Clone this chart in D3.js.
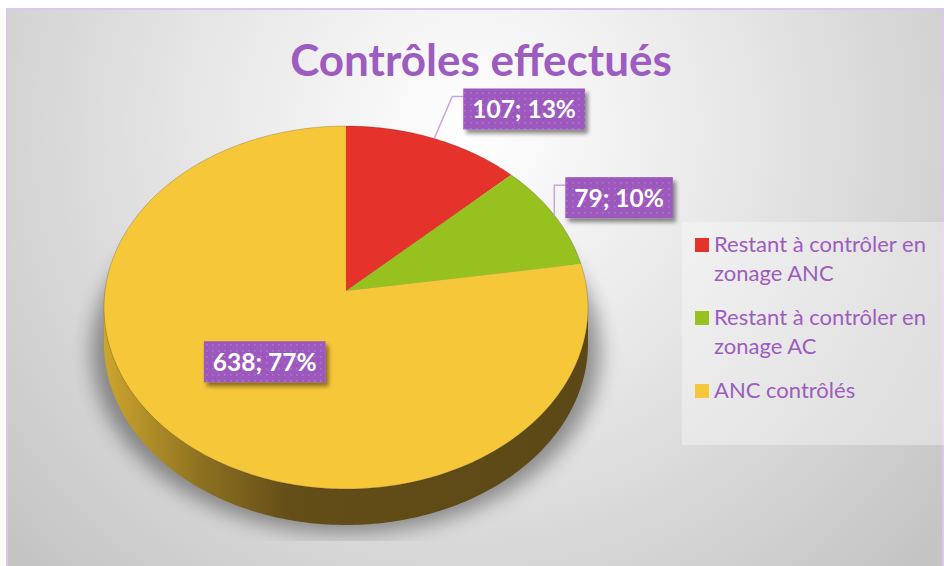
<!DOCTYPE html>
<html>
<head>
<meta charset="utf-8">
<script src="https://cdn.jsdelivr.net/npm/d3@7"></script>
<style>
  html, body { margin: 0; padding: 0; background: #fff; }
  svg { display: block; font-family: Lato, "Open Sans", sans-serif; }
</style>
</head>
<body>
<svg id="chart" width="944" height="566"></svg>
<script>
// Chart data
const title = "Contrôles effectués";
const categories = [
  "Restant à contrôler en zonage ANC",
  "Restant à contrôler en zonage AC",
  "ANC contrôlés"
];
const values = [107, 79, 638];
const palette = ["#e5322a", "#96c11f", "#f6c739"];

// Layout of the tilted pie (perspective projection of a flat disc)
const pieGeom = { cx: 346, cy: 291, rx: 241, ry: 180, persp: 0.0909, depth: 36 };
// label box offsets from the rim anchor, null = inside the slice
const labelOffsets = [[29, -50], [11, -38], null];

const svg = d3.select('#chart');
const W = 944, H = 566;
const defs = svg.append('defs');

// Background radial gradient
const bg = defs.append('radialGradient')
  .attr('id', 'bg').attr('gradientUnits', 'userSpaceOnUse')
  .attr('cx', 470).attr('cy', 130).attr('r', 620);
bg.append('stop').attr('offset', 0).attr('stop-color', '#ffffff');
bg.append('stop').attr('offset', 0.45).attr('stop-color', '#e6e6e6');
bg.append('stop').attr('offset', 1).attr('stop-color', '#c4c4c4');

// Side gradient of the disc
const side = defs.append('linearGradient')
  .attr('id', 'side').attr('gradientUnits', 'userSpaceOnUse')
  .attr('x1', pieGeom.cx - pieGeom.rx).attr('x2', pieGeom.cx + pieGeom.rx)
  .attr('y1', 0).attr('y2', 0);
[[0, '#cca52d'], [0.2, '#8d7121'], [0.38, '#634e18'], [1, '#5c4816']].forEach(s => {
  side.append('stop').attr('offset', s[0]).attr('stop-color', s[1]);
});

const blur = defs.append('filter').attr('id', 'pieShadow')
  .attr('x', '-20%').attr('y', '-20%').attr('width', '140%').attr('height', '140%');
blur.append('feGaussianBlur').attr('stdDeviation', 10);

const boxShadow = defs.append('filter').attr('id', 'boxShadow')
  .attr('x', '-20%').attr('y', '-30%').attr('width', '150%').attr('height', '170%');
boxShadow.append('feDropShadow')
  .attr('dx', 3).attr('dy', 4).attr('stdDeviation', 2)
  .attr('flood-color', '#000').attr('flood-opacity', 0.45);

// Dotted texture for data labels
const dots = defs.append('pattern').attr('id', 'dots')
  .attr('patternUnits', 'userSpaceOnUse').attr('width', 6).attr('height', 6);
dots.append('rect').attr('width', 6).attr('height', 6).attr('fill', '#9c58bd');
dots.append('rect').attr('x', 2).attr('y', 2).attr('width', 1.6).attr('height', 1.6)
  .attr('fill', '#ad77cb');

defs.append('clipPath').attr('id', 'shadowClip')
  .append('rect').attr('x', 0).attr('y', 0).attr('width', W).attr('height', 541);

// Frame + background
svg.append('rect').attr('x', 7).attr('y', 9).attr('width', W - 8).attr('height', H)
  .attr('fill', 'url(#bg)').attr('stroke', '#dcc8ec').attr('stroke-width', 2);

// Title
svg.append('text')
  .attr('x', 481).attr('y', 76)
  .attr('text-anchor', 'middle')
  .attr('font-size', 44).attr('font-weight', 700)
  .attr('fill', '#9d5cbf')
  .text(title);

// Projection of an angle on the rim
function project(theta, r = 1) {
  const d = 1 + pieGeom.persp * Math.cos(theta) * r;
  return [
    pieGeom.cx + pieGeom.rx * r * Math.sin(theta) / d,
    pieGeom.cy - pieGeom.ry * r * Math.cos(theta) / d
  ];
}
function rim(a0, a1) {
  const n = Math.max(2, Math.ceil((a1 - a0) / (Math.PI / 180)));
  return d3.range(n + 1).map(i => project(a0 + (a1 - a0) * i / n));
}

const total = d3.sum(values);
const pct = d3.format('.0%');
const arcs = d3.pie().sort(null).startAngle(0).endAngle(2 * Math.PI)(values);
const line = d3.line();

const pieG = svg.append('g');

// silhouette angles of the side (where the rim is widest)
const silA = Math.acos(-pieGeom.persp);
const silB = 2 * Math.PI - silA;

// Drop shadow under the disc
const outline = rim(0, 2 * Math.PI);
const shadowPts = outline.map(p => [
  pieGeom.cx + (p[0] - pieGeom.cx) * 1.05,
  p[1] + pieGeom.depth + 8
]);
pieG.append('g').attr('clip-path', 'url(#shadowClip)')
  .append('path')
  .attr('d', line(shadowPts) + 'Z')
  .attr('fill', '#000').attr('opacity', 0.38)
  .attr('filter', 'url(#pieShadow)');

// Side of the disc, drawn per slice where it faces the viewer
arcs.forEach(a => {
  const s = Math.max(a.startAngle, silA), e = Math.min(a.endAngle, silB);
  if (e <= s) return;
  const top = rim(s, e);
  const bottom = top.map(p => [p[0], p[1] + pieGeom.depth]).reverse();
  pieG.append('path')
    .attr('d', line(top.concat(bottom)) + 'Z')
    .attr('fill', 'url(#side)');
});

// Top face slices
pieG.selectAll('path.slice')
  .data(arcs)
  .join('path')
  .attr('class', 'slice')
  .attr('d', a => line([[pieGeom.cx, pieGeom.cy]].concat(rim(a.startAngle, a.endAngle))) + 'Z')
  .attr('fill', (a, i) => palette[i]);

// thin rim edge
pieG.append('path')
  .attr('d', line(outline) + 'Z')
  .attr('fill', 'none').attr('stroke', '#000').attr('stroke-opacity', 0.18).attr('stroke-width', 1);

// Data labels
const labelG = svg.append('g');
arcs.forEach((a, i) => {
  const mid = (a.startAngle + a.endAngle) / 2;
  const txt = `${values[i]}; ${pct(values[i] / total)}`;
  const g = labelG.append('g');
  const t = g.append('text')
    .attr('font-size', 24.5).attr('font-weight', 700).attr('fill', '#fff')
    .text(txt);
  const tw = t.node().getComputedTextLength();
  const bw = tw + 18, bh = 41;
  let bx, by;
  if (labelOffsets[i]) {
    const anchor = project(mid);
    bx = anchor[0] + labelOffsets[i][0];
    by = anchor[1] + labelOffsets[i][1];
    labelG.insert('path', ':first-child')
      .attr('d', line([anchor, [bx - 11, by + 8], [bx, by + 8]]))
      .attr('fill', 'none').attr('stroke', '#c7a6df').attr('stroke-width', 1.5);
  } else {
    const c = project(mid, 0.5);
    bx = c[0] - bw / 2;
    by = c[1] - bh / 2;
  }
  g.insert('rect', 'text')
    .attr('x', bx).attr('y', by).attr('width', bw).attr('height', bh)
    .attr('fill', 'url(#dots)').attr('filter', 'url(#boxShadow)');
  t.attr('x', bx + bw / 2).attr('y', by + bh / 2 + 9).attr('text-anchor', 'middle');
});

// Legend
const legend = svg.append('g');
legend.append('rect')
  .attr('x', 682).attr('y', 222).attr('width', 262).attr('height', 223)
  .attr('fill', '#ffffff').attr('opacity', 0.35);

const legendFont = 22, lineH = 29, itemGap = 15, maxW = 232;
let ly = 252;
categories.forEach((c, i) => {
  const item = legend.append('g');
  item.append('rect')
    .attr('x', 695).attr('y', ly - 14).attr('width', 14).attr('height', 14)
    .attr('fill', palette[i]);
  // simple word wrap
  const words = c.split(' ');
  const lines = [];
  let cur = '';
  const probe = item.append('text').attr('font-size', legendFont);
  words.forEach(w => {
    const next = cur ? cur + ' ' + w : w;
    probe.text(next);
    if (probe.node().getComputedTextLength() > maxW && cur) {
      lines.push(cur);
      cur = w;
    } else {
      cur = next;
    }
  });
  lines.push(cur);
  probe.remove();
  const text = item.append('text')
    .attr('font-size', legendFont).attr('fill', '#9d5cbf');
  lines.forEach((l, j) => {
    text.append('tspan').attr('x', 714).attr('y', ly + j * lineH).text(l);
  });
  ly += lines.length * lineH + itemGap;
});
</script>
</body>
</html>
